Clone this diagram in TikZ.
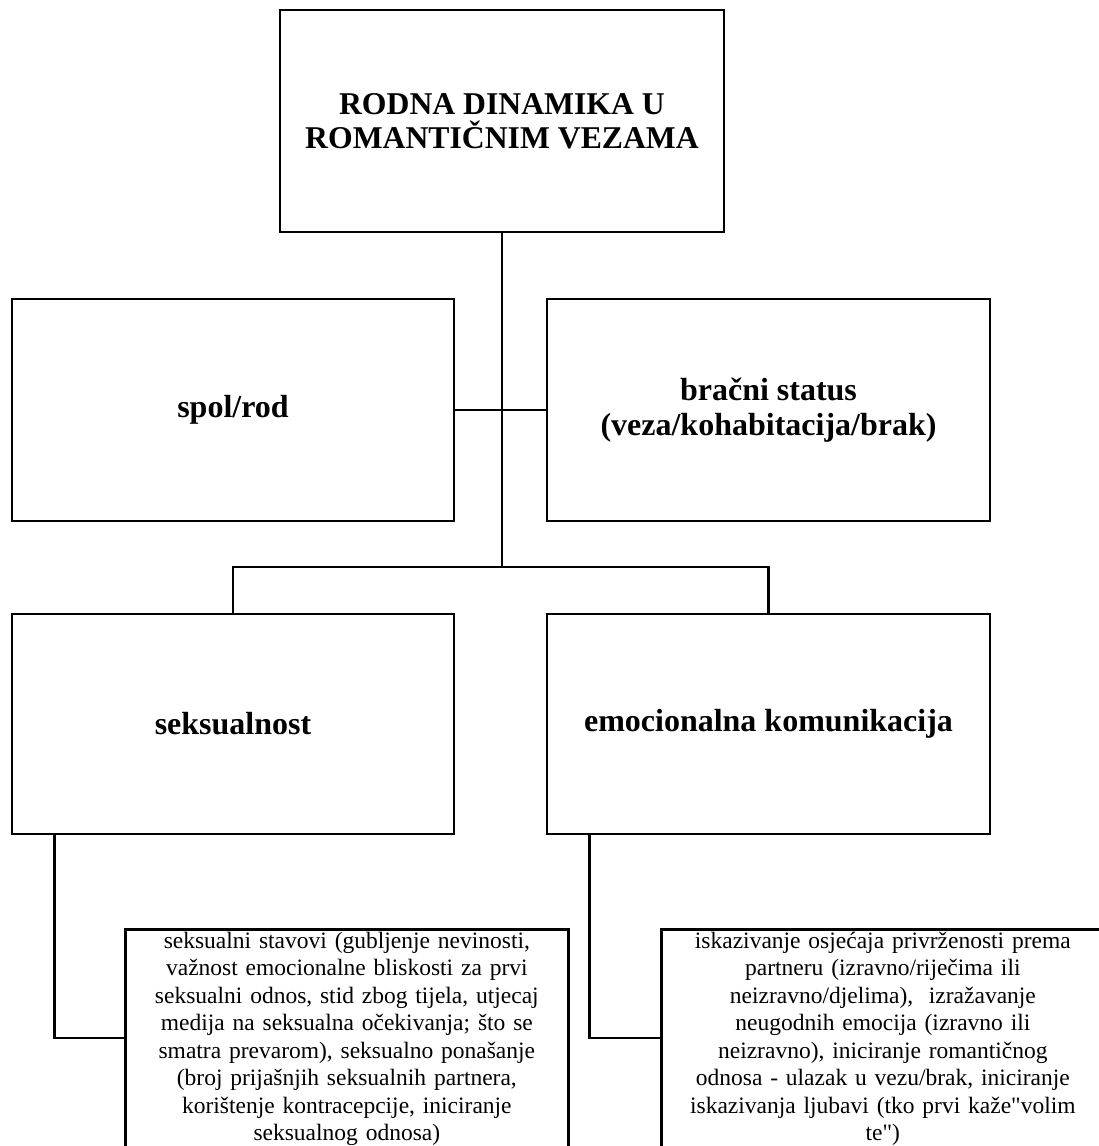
\documentclass[tikz,border=0pt]{standalone}
\usepackage{fontspec}
\setmainfont{Liberation Serif}
\usetikzlibrary{positioning}
\newcommand\straightquote{{\XeTeXglyph\XeTeXcharglyph"22\relax}}
\tikzset{
  box/.style={draw, line width=2.7pt, rectangle, inner sep=0pt, align=center,
    font=\bfseries\fontsize{32}{35}\selectfont},
  detail/.style={draw, line width=2.7pt, rectangle, anchor=north west, inner xsep=0pt, inner ysep=2pt,
    align=center, minimum height=219pt, font=\fontsize{23.5}{27.5}\selectfont},
  link/.style={line width=2.7pt}
}
\begin{document}
\begin{tikzpicture}[x=1pt,y=-1pt]
\useasboundingbox (0,0) rectangle (1099,1146);
\node[box, minimum width=444pt, minimum height=222pt, font=\bfseries\fontsize{31.7}{34}\selectfont] (top) at (502,121) {RODNA DINAMIKA U\\ROMANTIČNIM VEZAMA};
\node[box, minimum width=442pt, minimum height=222pt] (gender) at (233,410) {spol/rod};
\node[box, minimum width=443pt, minimum height=222pt] (marital) at (768.5,410) {bračni status\\(veza/kohabitacija/brak)};
\node[box, minimum width=442pt, minimum height=220pt] (sex) at (233,724) {seksualnost};
\node[box, minimum width=443pt, minimum height=220pt] (emo) at (768.5,724) {emocionalna komunikacija};
\node[detail, text width=443pt] (sexdet) at (124,928) {seksualni stavovi (gubljenje nevinosti,\\važnost emocionalne bliskosti za prvi\\seksualni odnos, stid zbog tijela, utjecaj\\medija na seksualna očekivanja; što se\\smatra prevarom), seksualno ponašanje\\(broj prijašnjih seksualnih partnera,\\korištenje kontracepcije, iniciranje\\seksualnog odnosa)};
\node[detail, text width=443pt] (emodet) at (660,928) {iskazivanje osjećaja privrženosti prema\\partneru (izravno/riječima ili\\neizravno/djelima),~ izražavanje\\neugodnih emocija (izravno ili\\neizravno), iniciranje romantičnog\\odnosa - ulazak u vezu/brak, iniciranje\\iskazivanja ljubavi (tko prvi kaže\straightquote volim\\te\straightquote)};
\coordinate (split) at (502,567);
\draw[link] (top.south) -- (split);
\draw[link] (gender.east) -- (marital.west);
\draw[link] (sex.north) |- (split) -| (emo.north);
\draw[link] ([xshift=44pt]sex.south west) |- ([yshift=-110pt]sexdet.north west);
\draw[link] ([xshift=44pt]emo.south west) |- ([yshift=-110pt]emodet.north west);
\end{tikzpicture}
\end{document}
